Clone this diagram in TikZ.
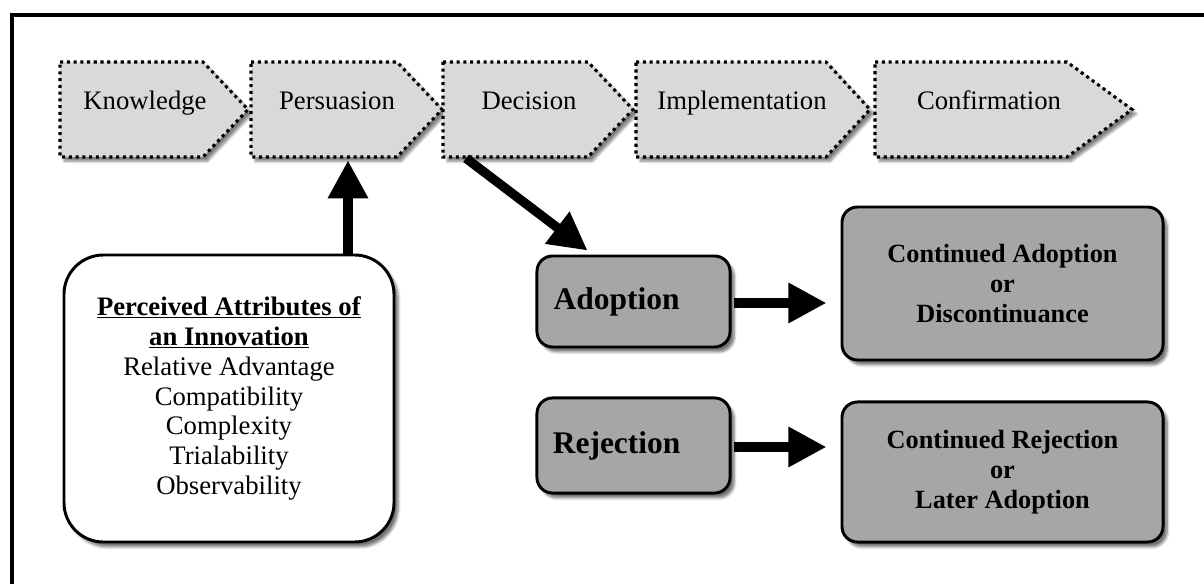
\documentclass[tikz,border=0pt]{standalone}
\usepackage{fontspec}
\setmainfont{Liberation Serif}
\usepackage{xcolor}
\usepackage{tikz}
\usetikzlibrary{positioning, arrows.meta, calc, shadows.blur}
\definecolor{stagegray}{RGB}{217,217,217}
\definecolor{boxgray}{RGB}{166,166,166}

\begin{document}
\begin{tikzpicture}[x=0.025cm, y=-0.025cm,
  stage/.style={rectangle, minimum height=67.6pt, inner sep=0pt,
                text height=9pt, text depth=9pt,
                font=\fontsize{19}{22}\selectfont},
  stageline/.style={draw=black, fill=stagegray, line width=2.2pt,
                    dash pattern=on 2.2pt off 2.6pt,
                    blur shadow={shadow xshift=3pt, shadow yshift=-3pt,
                                 shadow opacity=50, shadow blur steps=6}},
  attrbox/.style={rectangle, rounded corners=28pt, draw=black, fill=white,
                  line width=2.1pt, align=center,
                  minimum width=234.7pt, minimum height=204.1pt,
                  font=\fontsize{19}{21.3}\selectfont,
                  blur shadow={shadow xshift=3pt, shadow yshift=-3.5pt,
                               shadow opacity=55, shadow blur steps=6}},
  result/.style={rectangle, rounded corners=11pt, draw=black, fill=boxgray,
                 line width=2.1pt, align=center,
                 blur shadow={shadow xshift=3pt, shadow yshift=-3.5pt,
                              shadow opacity=55, shadow blur steps=6}},
  bigarr/.style={line width=6.6pt, draw=black,
                 -{Triangle[length=27pt, width=27pt]}},
  frameline/.style={line width=2.6pt, draw=black}
]
\useasboundingbox (0,0) rectangle (1204,584);

% Frame
\draw[frameline] (1230,15) -- (12,15) -- (12,610);

% Stage chevrons
\draw[stageline] (60,62)  -- (203,62)  -- (248,109.5)  -- (203,157)  -- (60,157)  -- cycle;
\draw[stageline] (251,62) -- (397,62)  -- (442,109.5)  -- (397,157)  -- (251,157) -- cycle;
\draw[stageline] (443,62) -- (588,62)  -- (633,109.5)  -- (588,157)  -- (443,157) -- cycle;
\draw[stageline] (636,62) -- (826,62)  -- (870,109.5)  -- (826,157)  -- (636,157) -- cycle;
\draw[stageline] (875,62) -- (1067,62) -- (1132,109.5) -- (1067,157) -- (875,157) -- cycle;

% Stages
\node[stage, minimum width=120.9pt] (know) at (145,109.5)  {Knowledge};
\node[stage, minimum width=122.3pt] (pers) at (337,109.5)  {Persuasion};
\node[stage, minimum width=122.3pt] (dec)  at (529,109.5)  {Decision};
\node[stage, minimum width=150.8pt] (impl) at (742,109.5)  {Implementation};
\node[stage, minimum width=162.2pt] (conf) at (989,109.5)  {Confirmation};

% Attributes
\node[attrbox] (attr) at (229,398.5)
  {\underline{\textbf{Perceived Attributes of}}\\
   \underline{\textbf{an Innovation}}\\
   Relative Advantage\\Compatibility\\Complexity\\Trialability\\Observability};

% Outcomes
\node[result, minimum width=137.3pt, minimum height=64.7pt,
      font=\fontsize{22.4}{26}\selectfont\bfseries] (adopt)  at (633.5,301.5) {Adoption\hspace*{24pt}};
\node[result, minimum width=137.3pt, minimum height=67.6pt,
      font=\fontsize{22.4}{26}\selectfont\bfseries] (reject) at (633.5,445.5) {Rejection\hspace*{24pt}};
\node[result, minimum width=228.3pt, minimum height=108.8pt,
      font=\fontsize{18.7}{21.3}\selectfont\bfseries] (contadopt)  at (1002.5,283.5)
  {Continued Adoption\\or\\Discontinuance};
\node[result, minimum width=228.3pt, minimum height=99.6pt,
      font=\fontsize{18.7}{21.3}\selectfont\bfseries] (contreject) at (1002.5,472)
  {Continued Rejection\\or\\Later Adoption};

% Arrows
\coordinate (up) at ($(pers.south)+(11,3)$);
\draw[bigarr] (attr.north -| up) -- (up);
\draw[bigarr] ($(dec.south)+(-63,1)$) -- ($(adopt.north)+(-46,-4)$);
\draw[bigarr, shorten <=2pt, shorten >=10pt] ($(adopt.east)+(0,1.5)$) -- ($(contadopt.west |- adopt.east)+(0,1.5)$);
\draw[bigarr, shorten <=2pt, shorten >=10pt] ($(reject.east)+(0,1.5)$) -- ($(contreject.west |- reject.east)+(0,1.5)$);

\end{tikzpicture}
\end{document}
